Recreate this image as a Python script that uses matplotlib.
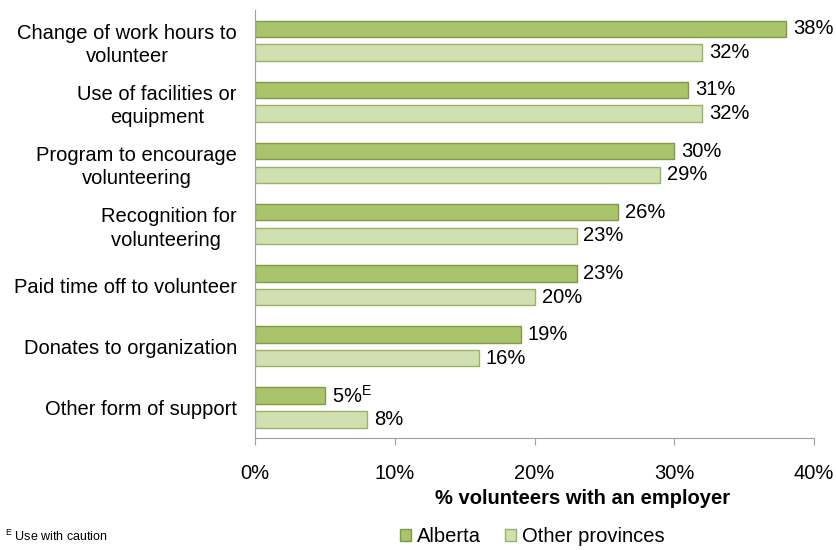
import matplotlib.pyplot as plt
import numpy as np

plt.rcParams['font.family'] = ['Liberation Sans', 'DejaVu Sans']

categories = [
    "Change of work hours to\nvolunteer",
    "Use of facilities or\nequipment",
    "Program to encourage\nvolunteering",
    "Recognition for\nvolunteering ",
    "Paid time off to volunteer",
    "Donates to organization",
    "Other form of support",
]
alberta = [38, 31, 30, 26, 23, 19, 5]
other_provinces = [32, 32, 29, 23, 20, 16, 8]
alberta_flags = ["", "", "", "", "", "", "E"]

col_ab = "#aac46c"
edge_ab = "#7d9a45"
col_op = "#d1e0b1"
edge_op = "#98b268"

fs = 14.5

fig = plt.figure(figsize=(8.37, 5.5), dpi=100)
ax = fig.add_axes([0.3047, 0.2036, 0.668, 0.778])

y = np.arange(len(categories))
h = 0.27
off = 0.195
ax.barh(y - off, alberta, height=h, color=col_ab, edgecolor=edge_ab, linewidth=1, label="Alberta")
ax.barh(y + off, other_provinces, height=h, color=col_op, edgecolor=edge_op, linewidth=1,
        label="Other provinces")

for i, (a, o, f) in enumerate(zip(alberta, other_provinces, alberta_flags)):
    txt = f"{a}%" + (r"$^{\mathregular{" + f + "}}$" if f else "")
    ax.annotate(txt, (a, i - off), xytext=(5, 0), textcoords="offset points",
                va="center", ha="left", fontsize=fs)
    ax.annotate(f"{o}%", (o, i + off), xytext=(5, 0), textcoords="offset points",
                va="center", ha="left", fontsize=fs)

ax.set_ylim(len(categories) - 0.5, -0.5)
ax.set_xlim(0, 40)
ax.set_xticks([0, 10, 20, 30, 40])
ax.set_xticklabels([f"{t}%" for t in [0, 10, 20, 30, 40]], fontsize=fs)
ax.set_yticks(y)
ax.set_yticklabels(categories, fontsize=fs, multialignment="center", linespacing=1.3)
ax.tick_params(axis="y", length=0, pad=13)
ax.tick_params(axis="x", length=5, direction="out", pad=14, color="#a0a0a0")

for s in ["top", "right"]:
    ax.spines[s].set_visible(False)
ax.spines["left"].set_color("#a0a0a0")
ax.spines["bottom"].set_color("#a0a0a0")

fig.text(0.6965, 0.0945, "% volunteers with an employer", ha="center", va="center",
         fontsize=fs, fontweight="bold")

fig.legend(loc="center", bbox_to_anchor=(0.636, 0.024), ncol=2, frameon=False,
           fontsize=fs, handlelength=0.55, handleheight=0.55, handletextpad=0.3,
           columnspacing=1.2, borderpad=0.2)

fig.text(0.006, 0.024, r"$^{\mathregular{E}}$ Use with caution", ha="left", va="center",
         fontsize=9)

fig.savefig("out.png", dpi=100)
